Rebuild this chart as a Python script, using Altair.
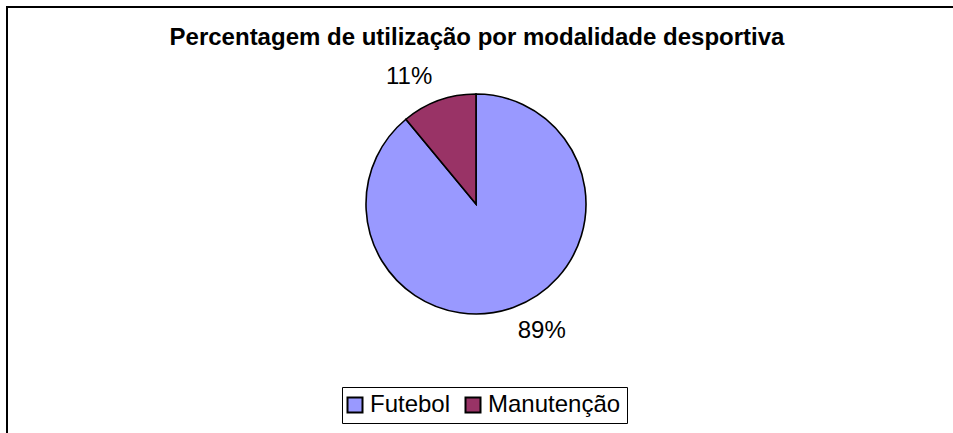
import altair as alt
import pandas as pd

categorias = ["Futebol", "Manutenção"]
percentagens = [89, 11]
rotulos = ["89%", "11%"]
titulo = "Percentagem de utilização por modalidade desportiva"
cores = ["#9999FF", "#993366"]

df = pd.DataFrame({
    "modalidade": categorias,
    "pct": percentagens,
    "rotulo": rotulos,
    "ordem": list(range(len(categorias))),
})

FONT = "Liberation Sans"
CX, CY, R = 476, 204, 110

base = alt.Chart(df)

theta = alt.Theta("pct:Q", stack=True)
order = alt.Order("ordem:Q", sort="ascending")

arcs = base.mark_arc(radius=R, stroke="black", strokeWidth=1.6).encode(
    theta=theta,
    order=order,
    x=alt.value(CX),
    y=alt.value(CY),
    color=alt.Color(
        "modalidade:N",
        scale=alt.Scale(domain=categorias, range=cores),
        legend=alt.Legend(
            title=None,
            orient="none",
            legendX=342,
            legendY=387,
            direction="horizontal",
            strokeColor="black",
            padding=6,
            symbolType="square",
            symbolSize=225,
            symbolStrokeColor="black",
            symbolStrokeWidth=2,
            symbolOpacity=1,
            symbolOffset=-5,
            labelFont=FONT,
            labelFontSize=24,
            labelColor="black",
            labelOffset=3,
            columnPadding=10,
        ),
    ),
)

def label_layer(cat, align, dx):
    # both rows stay in the layer so the angle stack is right; only one text is shown
    return base.mark_text(
        font=FONT, fontSize=24, color="black", align=align, baseline="middle",
        radius=135, dx=dx,
    ).encode(
        theta=theta,
        order=order,
        x=alt.value(CX),
        y=alt.value(CY),
        text=alt.condition(alt.datum.modalidade == cat, "rotulo:N", alt.value("")),
    )

labels_left = label_layer("Manutenção", "right", 2)
labels_right = label_layer("Futebol", "left", -4)

title_df = pd.DataFrame({"t": [titulo]})
title_layer = alt.Chart(title_df).mark_text(
    font=FONT, fontSize=24, fontWeight="bold", color="black", align="center", baseline="alphabetic",
).encode(x=alt.value(477), y=alt.value(45), text="t:N")

border = alt.Chart(pd.DataFrame({"b": [0]})).mark_rect(
    fill="transparent", stroke="black", strokeWidth=2
).encode(x=alt.value(7), y=alt.value(7), x2=alt.value(1100), y2=alt.value(1100))

chart = alt.layer(border, arcs, labels_left, labels_right, title_layer).properties(
    width=953, height=433, padding=0, autosize=alt.AutoSizeParams(type="none"),
    background="white",
).configure_view(strokeWidth=0)

chart.save("out.html", embed_options={"renderer": "svg", "actions": False})
